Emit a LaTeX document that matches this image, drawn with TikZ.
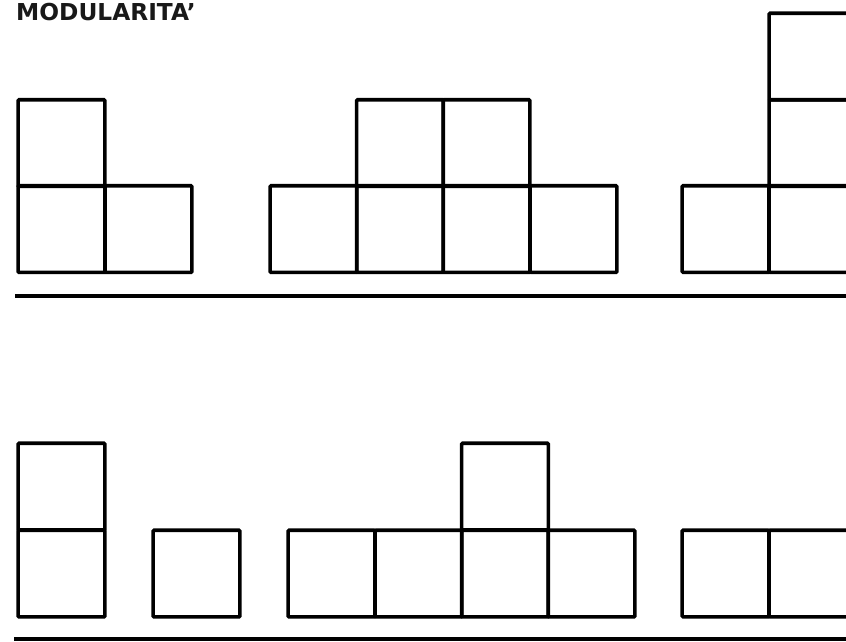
\documentclass[tikz,border=0pt]{standalone}
\usepackage{fontspec}
\setmainfont{DejaVu Sans}
\tikzset{
  cell/.style={draw, line width=3.6pt, rounded corners=1pt, minimum width=86.8pt, minimum height=86.6pt, inner sep=0pt},
  baseline/.style={line width=3.6pt}
}
\begin{document}
\begin{tikzpicture}[x=1pt,y=-1pt]
    \clip (0,0) rectangle (846,641);
    \fill[white] (0,0) rectangle (846,641);

    \node[anchor=base west, inner sep=0pt, font=\fontsize{23.3}{26}\selectfont\bfseries, text=black!90] (title) at (16,20) {MODULARITA'};

    \node[cell] (A1) at (61.5,229) {};
    \node[cell] (A2) at (148.5,229) {};
    \node[cell] (A3) at (61.5,143) {};

    \node[cell] (B1) at (313.5,229) {};
    \node[cell] (B2) at (400,229) {};
    \node[cell] (B3) at (486.5,229) {};
    \node[cell] (B4) at (573.5,229) {};
    \node[cell] (B5) at (400,143) {};
    \node[cell] (B6) at (486.5,143) {};

    \node[cell] (C1) at (725.5,229) {};
    \node[cell] (C2) at (812.5,229) {};
    \node[cell] (C3) at (812.5,143) {};
    \node[cell] (C4) at (812.5,56.5) {};

    \coordinate (topL) at (15,296);
    \coordinate (topR) at (850,296);
    \draw[baseline] (topL) -- (topR);

    \node[cell] (D1) at (61.5,573.5) {};
    \node[cell] (D2) at (61.5,486.5) {};

    \node[cell] (E1) at (196.5,573.5) {};

    \node[cell] (F1) at (331.5,573.5) {};
    \node[cell] (F2) at (418.5,573.5) {};
    \node[cell] (F3) at (505,573.5) {};
    \node[cell] (F4) at (591.5,573.5) {};
    \node[cell] (F5) at (505,486.5) {};

    \node[cell] (G1) at (725.5,573.5) {};
    \node[cell] (G2) at (812.5,573.5) {};

    \coordinate (botL) at (14,639);
    \coordinate (botR) at (850,639);
    \draw[baseline] (botL) -- (botR);
\end{tikzpicture}
\end{document}
